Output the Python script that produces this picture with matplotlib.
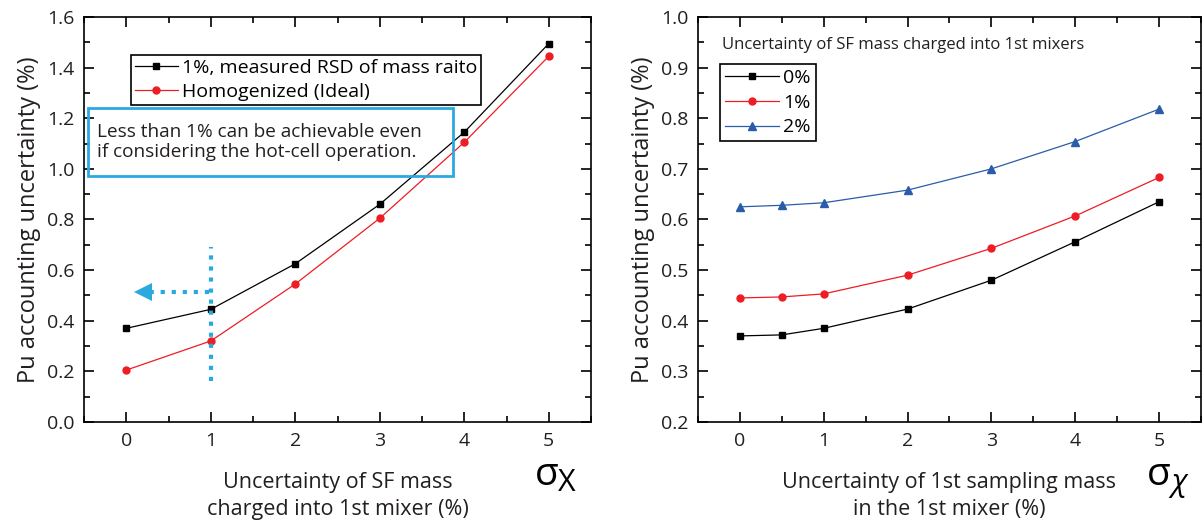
import matplotlib.pyplot as plt
from matplotlib.patches import Rectangle

plt.rcParams['font.family'] = ['Open Sans', 'DejaVu Sans']

# left panel data
x_left = [0, 1, 2, 3, 4, 5]
rsd_measured = [0.37, 0.445, 0.625, 0.86, 1.145, 1.495]
homogenized = [0.205, 0.32, 0.545, 0.805, 1.105, 1.445]

# right panel data
x_right = [0, 0.5, 1, 2, 3, 4, 5]
sf_0 = [0.370, 0.372, 0.385, 0.423, 0.480, 0.556, 0.635]
sf_1 = [0.445, 0.447, 0.453, 0.490, 0.543, 0.607, 0.683]
sf_2 = [0.625, 0.628, 0.633, 0.658, 0.700, 0.754, 0.818]

blue = '#29a9e0'

fig = plt.figure(figsize=(12.04, 5.24), dpi=100)
ax1 = fig.add_axes([0.0698, 0.1947, 0.4211, 0.7729])
ax2 = fig.add_axes([0.5797, 0.1947, 0.4178, 0.7729])


def style_axes(ax, ylim, ystep):
    ax.set_xlim(-0.5, 5.5)
    ax.set_ylim(*ylim)
    ax.set_xticks(range(6))
    ax.set_xticks([x + 0.5 for x in range(-1, 6)], minor=True)
    yt = [round(ylim[0] + i * ystep, 2) for i in range(int(round((ylim[1] - ylim[0]) / ystep)) + 1)]
    ax.set_yticks(yt)
    ax.set_yticks([v + ystep / 2 for v in yt[:-1]], minor=True)
    ax.tick_params(which='both', direction='in', top=True, right=True, labelsize=14,
                   width=1.2, labelcolor='#231f20')
    ax.tick_params(which='major', length=7, pad=7)
    ax.tick_params(which='minor', length=4)
    for s in ax.spines.values():
        s.set_linewidth(1.2)
    ax.set_ylabel('Pu accounting uncertainty (%)', fontsize=17, labelpad=4, color='#231f20')


# left panel
ax1.plot(x_left, rsd_measured, '-s', color='black', lw=0.9, ms=5,
         label='1%, measured RSD of mass raito')
ax1.plot(x_left, homogenized, '-o', color='#ee1c24', lw=0.9, ms=5,
         label='Homogenized (Ideal)')
style_axes(ax1, (0.0, 1.6), 0.2)
ax1.yaxis.set_major_formatter(plt.FormatStrFormatter('%.1f'))
ax1.set_xlabel('Uncertainty of SF mass\ncharged into 1st mixer (%)', fontsize=15.5, labelpad=16,
               linespacing=1.35, color='#231f20')
leg1 = ax1.legend(loc='upper left', bbox_to_anchor=(0.093, 0.906), fontsize=14,
                  fancybox=False, edgecolor='black', framealpha=1, borderaxespad=0,
                  handlelength=2.2, borderpad=0.2, labelspacing=0.3, handletextpad=0.2)
leg1.get_frame().set_linewidth(1.2)

ax1.add_patch(Rectangle((0.008, 0.607), 0.72, 0.168, transform=ax1.transAxes,
                        fill=False, edgecolor=blue, lw=2, zorder=5))
ax1.text(0.025, 0.691, 'Less than 1% can be achievable even\nif considering the hot-cell operation.',
         transform=ax1.transAxes, fontsize=13.7, va='center', ha='left',
         color='#231f20', linespacing=1.1, zorder=6)

ax1.plot([1, 1], [0.16, 0.69], ls=':', color=blue, lw=3)
ax1.plot([0.98, 0.3], [0.515, 0.515], ls=':', color=blue, lw=3)
ax1.plot([0.2], [0.515], marker='<', color=blue, ms=13, mew=0)

ax1.text(4.98, -0.21, 'σ', fontsize=28, ha='center', va='center', clip_on=False)
ax1.text(5.21, -0.24, 'X', fontsize=22, ha='center', va='center', clip_on=False)

# right panel
ax2.plot(x_right, sf_0, '-s', color='black', lw=0.9, ms=5, label='0%')
ax2.plot(x_right, sf_1, '-o', color='#ee1c24', lw=0.9, ms=5, label='1%')
ax2.plot(x_right, sf_2, '-^', color='#2a5caa', lw=0.9, ms=5.5, label='2%')
style_axes(ax2, (0.2, 1.0), 0.1)
ax2.yaxis.set_major_formatter(plt.FormatStrFormatter('%.1f'))
ax2.set_xlabel('Uncertainty of 1st sampling mass\nin the 1st mixer (%)', fontsize=15.5, labelpad=16,
               linespacing=1.35, color='#231f20')
ax2.text(0.048, 0.931, 'Uncertainty of SF mass charged into 1st mixers',
         transform=ax2.transAxes, fontsize=12, va='center', ha='left', color='#231f20')
leg2 = ax2.legend(loc='upper left', bbox_to_anchor=(0.044, 0.884), fontsize=14,
                  fancybox=False, edgecolor='black', framealpha=1, borderaxespad=0,
                  handlelength=2.8, borderpad=0.25, labelspacing=0.35, handletextpad=0.2)
leg2.get_frame().set_linewidth(1.2)

ax2.text(5.0, 0.095, 'σ', fontsize=28, ha='center', va='center', clip_on=False)
ax2.text(5.24, 0.08, 'χ', fontsize=22, ha='center', va='center', style='italic', clip_on=False)

fig.savefig('out.png', dpi=100)
